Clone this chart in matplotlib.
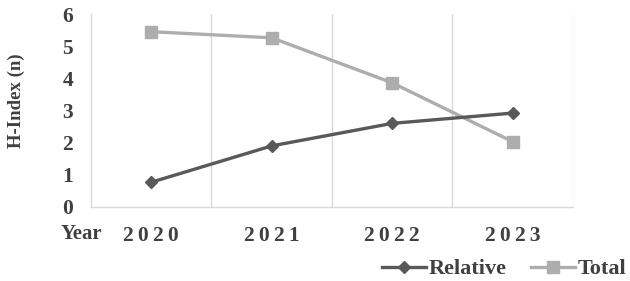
import matplotlib
matplotlib.use("Agg")
import matplotlib.pyplot as plt

years = ["2020", "2021", "2022", "2023"]
relative = [0.77, 1.9, 2.6, 2.92]
total = [5.45, 5.26, 3.86, 2.03]
y_ticks = [0, 1, 2, 3, 4, 5, 6]

plt.rcParams['font.family'] = ['Liberation Serif', 'DejaVu Serif']
plt.rcParams['font.weight'] = 'bold'

fig = plt.figure(figsize=(6.3, 2.81), dpi=100)
ax = fig.add_axes([91/630, 1-207/281, (573-91)/630, (207-14)/281])

x = list(range(len(years)))
dark = '#595959'
light = '#ADADAD'
grid = '#D9D9D9'
txt = '#404040'

for b in [i + 0.5 for i in x]:
    ax.axvline(b, color=grid, lw=1.0, zorder=0)

ax.plot(x, relative, color=dark, lw=2.4, marker='D', ms=6.5, label='Relative', zorder=3)
ax.plot(x, total, color=light, lw=2.4, marker='s', ms=8, label='Total', zorder=2)

ax.set_xlim(-0.5, len(years) - 0.5)
ax.set_ylim(0, 6)
ax.set_yticks(y_ticks)
ax.set_yticklabels([str(v) for v in y_ticks], fontsize=15.5, color=txt, fontweight='bold')
ax.tick_params(axis='y', length=0, pad=13)
ax.set_xticks(x)
ax.set_xticklabels(['\u2009'.join(y) for y in years], fontsize=15.5, color=txt, fontweight='bold')
ax.tick_params(axis='x', length=0, pad=14)

for s in ['top', 'right']:
    ax.spines[s].set_visible(False)
for s in ['left', 'bottom']:
    ax.spines[s].set_color(grid)
    ax.spines[s].set_linewidth(1.0)

ax.set_ylabel('H-Index (n)', fontsize=13.5, color=txt, fontweight='bold', va='center')
ax.yaxis.set_label_coords(16/630, 1-101/281, transform=fig.transFigure)
fig.text(81/630, 1-234/281, 'Year', fontsize=15, color=txt, fontweight='bold',
         ha='center', va='center')

leg = ax.legend(loc='center right', ncol=2, frameon=False, fontsize=16,
                handlelength=2.0, handletextpad=0.1, columnspacing=1.1,
                borderaxespad=0, borderpad=0)
leg.set_bbox_to_anchor((626/630, 1-269/281), transform=fig.transFigure)
for t in leg.get_texts():
    t.set_color(txt)

fig.savefig('out.png', dpi=100)
